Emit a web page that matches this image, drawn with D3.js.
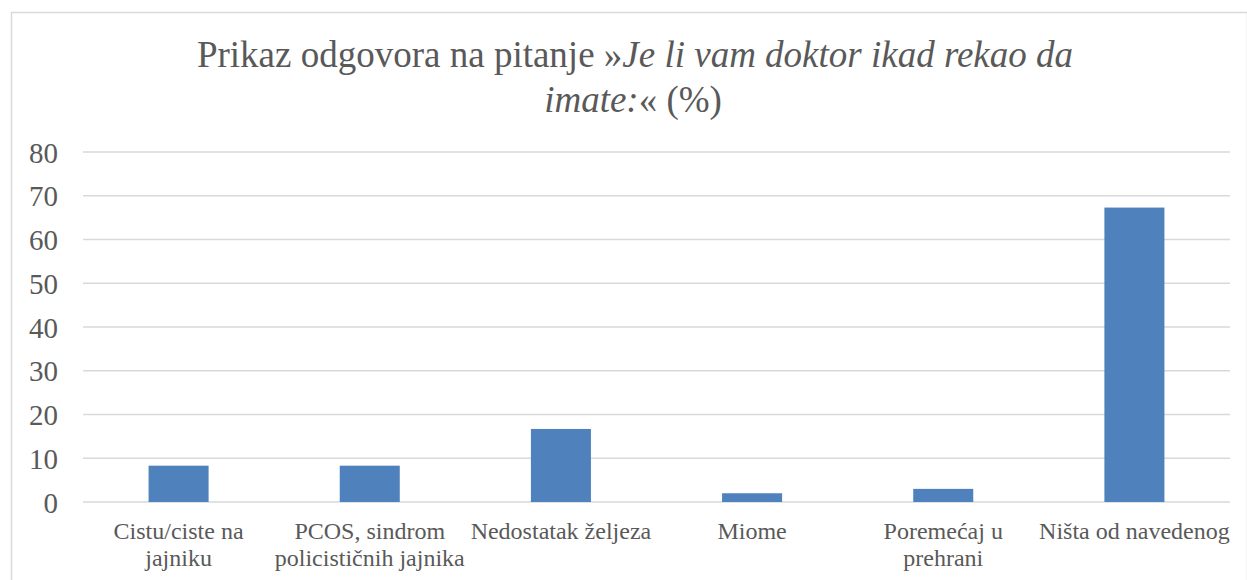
<!DOCTYPE html>
<html>
<head>
<meta charset="utf-8">
<script src="https://cdn.jsdelivr.net/npm/d3@7"></script>
<style>
  body { margin: 0; background: #fff; }
  svg, svg text { font-family: "Times New Roman", "Liberation Serif", "DejaVu Serif", serif; }
</style>
</head>
<body>
<svg width="1247" height="580"></svg>
<script>
// data
var categories = ["Cistu/ciste na\njajniku", "PCOS, sindrom\npolicističnih jajnika", "Nedostatak željeza", "Miome", "Poremećaj u\nprehrani", "Ništa od navedenog"];
var values = [8.3, 8.3, 16.7, 2.0, 3.0, 67.3];
var yTicks = [0, 10, 20, 30, 40, 50, 60, 70, 80];

var mySVG = d3.select("svg");
var margin = {left: 83, right: 17, top: 152, bottom: 78};
var W = 1247, H = 580;
var FONT = "'Times New Roman', 'Liberation Serif', 'DejaVu Serif', serif";

// chart border
mySVG.append("rect")
  .attr("x", 11.5).attr("y", 12.5)
  .attr("width", W - 11).attr("height", H)
  .attr("fill", "none").attr("stroke", "#d9d9d9").attr("stroke-width", 1.5);

var x = d3.scaleBand().domain(categories).range([margin.left, W - margin.right]).padding(0);
var y = d3.scaleLinear().domain([0, 80]).range([H - margin.bottom, margin.top]);

// gridlines
mySVG.append("g").selectAll("line").data(yTicks).join("line")
  .attr("x1", margin.left).attr("x2", W - margin.right)
  .attr("y1", function(d){return y(d);}).attr("y2", function(d){return y(d);})
  .attr("stroke", "#d9d9d9").attr("stroke-width", 1.5);

// y axis labels
var yAxis = d3.axisLeft(y).tickValues(yTicks).tickSize(0).tickPadding(0);
var gy = mySVG.append("g").attr("transform", "translate(58,0)").call(yAxis)
  .attr("font-family", FONT);
gy.select(".domain").remove();
gy.selectAll("text")
  .attr("font-size", 29).attr("fill", "#595959").attr("dy", "0.35em");

// bars
var barW = x.bandwidth() * 0.314;
mySVG.append("g").selectAll("rect").data(values).join("rect")
  .attr("x", function(d, i){return x(categories[i]) + x.bandwidth()/2 - barW/2;})
  .attr("width", barW)
  .attr("y", function(d){return y(d);})
  .attr("height", function(d){return y(0) - y(d);})
  .attr("fill", "#4f81bd");

// category labels
var xAxis = d3.axisBottom(x).tickSize(0).tickFormat("");
var gx = mySVG.append("g").attr("transform", "translate(0," + y(0) + ")").call(xAxis)
  .attr("font-family", FONT);
gx.select(".domain").remove();
gx.selectAll(".tick").each(function(d){
  var lines = d.split("\n");
  var t = d3.select(this).append("text")
    .attr("text-anchor", "middle").attr("font-size", 24).attr("fill", "#595959");
  lines.forEach(function(l, i){
    t.append("tspan").attr("x", 0).attr("y", 37 + i * 27).text(l);
  });
});

// title
var title = mySVG.append("g").attr("fill", "#595959").attr("font-size", 37)
  .attr("font-family", FONT).attr("text-anchor", "middle");
var t1 = title.append("text").attr("x", 635).attr("y", 67);
t1.append("tspan").text("Prikaz odgovora na pitanje »");
t1.append("tspan").attr("font-style", "italic").text("Je li vam doktor ikad rekao da");
var t2 = title.append("text").attr("x", 633).attr("y", 112);
t2.append("tspan").attr("font-style", "italic").text("imate:");
t2.append("tspan").text("« (%)");
</script>
</body>
</html>
